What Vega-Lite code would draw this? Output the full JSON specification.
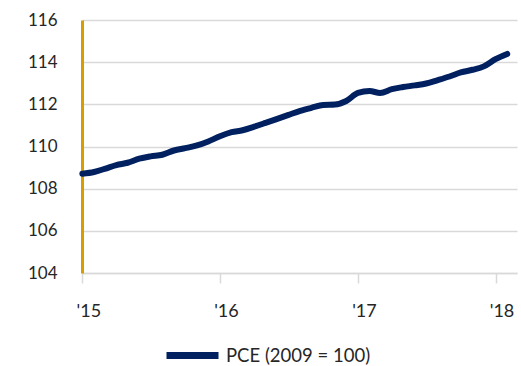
{
  "$schema": "https://vega.github.io/schema/vega-lite/v6.json",
  "autosize": {"type": "none"},
  "width": 435,
  "height": 253,
  "padding": {"left": 82, "top": 20, "right": 4, "bottom": 93},
  "background": "white",
  "config": {
    "view": {"stroke": null},
    "font": "Lato"
  },
  "data": {
    "values": [
      {"date": "2015-01-01", "value": 108.71, "series": "PCE (2009 = 100)"},
      {"date": "2015-02-01", "value": 108.79, "series": "PCE (2009 = 100)"},
      {"date": "2015-03-01", "value": 108.94, "series": "PCE (2009 = 100)"},
      {"date": "2015-04-01", "value": 109.12, "series": "PCE (2009 = 100)"},
      {"date": "2015-05-01", "value": 109.23, "series": "PCE (2009 = 100)"},
      {"date": "2015-06-01", "value": 109.42, "series": "PCE (2009 = 100)"},
      {"date": "2015-07-01", "value": 109.53, "series": "PCE (2009 = 100)"},
      {"date": "2015-08-01", "value": 109.61, "series": "PCE (2009 = 100)"},
      {"date": "2015-09-01", "value": 109.81, "series": "PCE (2009 = 100)"},
      {"date": "2015-10-01", "value": 109.92, "series": "PCE (2009 = 100)"},
      {"date": "2015-11-01", "value": 110.05, "series": "PCE (2009 = 100)"},
      {"date": "2015-12-01", "value": 110.24, "series": "PCE (2009 = 100)"},
      {"date": "2016-01-01", "value": 110.49, "series": "PCE (2009 = 100)"},
      {"date": "2016-02-01", "value": 110.68, "series": "PCE (2009 = 100)"},
      {"date": "2016-03-01", "value": 110.77, "series": "PCE (2009 = 100)"},
      {"date": "2016-04-01", "value": 110.94, "series": "PCE (2009 = 100)"},
      {"date": "2016-05-01", "value": 111.12, "series": "PCE (2009 = 100)"},
      {"date": "2016-06-01", "value": 111.31, "series": "PCE (2009 = 100)"},
      {"date": "2016-07-01", "value": 111.50, "series": "PCE (2009 = 100)"},
      {"date": "2016-08-01", "value": 111.69, "series": "PCE (2009 = 100)"},
      {"date": "2016-09-01", "value": 111.84, "series": "PCE (2009 = 100)"},
      {"date": "2016-10-01", "value": 111.97, "series": "PCE (2009 = 100)"},
      {"date": "2016-11-01", "value": 111.99, "series": "PCE (2009 = 100)"},
      {"date": "2016-12-01", "value": 112.16, "series": "PCE (2009 = 100)"},
      {"date": "2017-01-01", "value": 112.54, "series": "PCE (2009 = 100)"},
      {"date": "2017-02-01", "value": 112.63, "series": "PCE (2009 = 100)"},
      {"date": "2017-03-01", "value": 112.54, "series": "PCE (2009 = 100)"},
      {"date": "2017-04-01", "value": 112.72, "series": "PCE (2009 = 100)"},
      {"date": "2017-05-01", "value": 112.82, "series": "PCE (2009 = 100)"},
      {"date": "2017-06-01", "value": 112.90, "series": "PCE (2009 = 100)"},
      {"date": "2017-07-01", "value": 112.99, "series": "PCE (2009 = 100)"},
      {"date": "2017-08-01", "value": 113.15, "series": "PCE (2009 = 100)"},
      {"date": "2017-09-01", "value": 113.32, "series": "PCE (2009 = 100)"},
      {"date": "2017-10-01", "value": 113.51, "series": "PCE (2009 = 100)"},
      {"date": "2017-11-01", "value": 113.64, "series": "PCE (2009 = 100)"},
      {"date": "2017-12-01", "value": 113.80, "series": "PCE (2009 = 100)"},
      {"date": "2018-01-01", "value": 114.14, "series": "PCE (2009 = 100)"},
      {"date": "2018-02-01", "value": 114.39, "series": "PCE (2009 = 100)"}
    ]
  },
  "mark": {"type": "line", "strokeWidth": 6, "strokeCap": "round", "strokeJoin": "round", "interpolate": "monotone"},
  "encoding": {
    "x": {
      "field": "date",
      "type": "temporal",
      "scale": {
        "type": "utc",
        "domain": [
          {"year": 2014, "month": 12, "date": 31, "utc": true},
          {"year": 2018, "month": 2, "date": 27, "utc": true}
        ]
      },
      "axis": {
        "title": null,
        "values": [
          {"year": 2015, "month": 1, "date": 1, "utc": true},
          {"year": 2016, "month": 1, "date": 1, "utc": true},
          {"year": 2017, "month": 1, "date": 1, "utc": true},
          {"year": 2018, "month": 1, "date": 1, "utc": true}
        ],
        "labelExpr": "\"'\" + utcFormat(datum.value, '%y')",
        "grid": false,
        "domainColor": "#D9D9D9",
        "domainWidth": 1.5,
        "tickColor": "#D9D9D9",
        "tickWidth": 1.5,
        "tickSize": 10,
        "labelFontSize": 18,
        "labelColor": "#262626",
        "labelPadding": 19,
        "labelOffset": 6,
        "labelFlush": false
      }
    },
    "y": {
      "field": "value",
      "type": "quantitative",
      "scale": {"domain": [104, 116], "nice": false, "zero": false},
      "axis": {
        "title": null,
        "values": [104, 106, 108, 110, 112, 114, 116],
        "grid": true,
        "gridColor": "#D9D9D9",
        "gridWidth": 1.5,
        "domainColor": "#D69E00",
        "domainWidth": 3,
        "ticks": false,
        "labelFontSize": 17,
        "labelColor": "#262626",
        "labelPadding": 25
      }
    },
    "color": {
      "field": "series",
      "type": "nominal",
      "scale": {"range": ["#002060"]},
      "legend": {
        "title": null,
        "orient": "none",
        "legendX": 81,
        "legendY": 306,
        "symbolType": "stroke",
        "symbolSize": 2704,
        "symbolStrokeWidth": 7,
        "labelFontSize": 18.5,
        "labelColor": "#262626",
        "labelOffset": 4
      }
    }
  }
}
